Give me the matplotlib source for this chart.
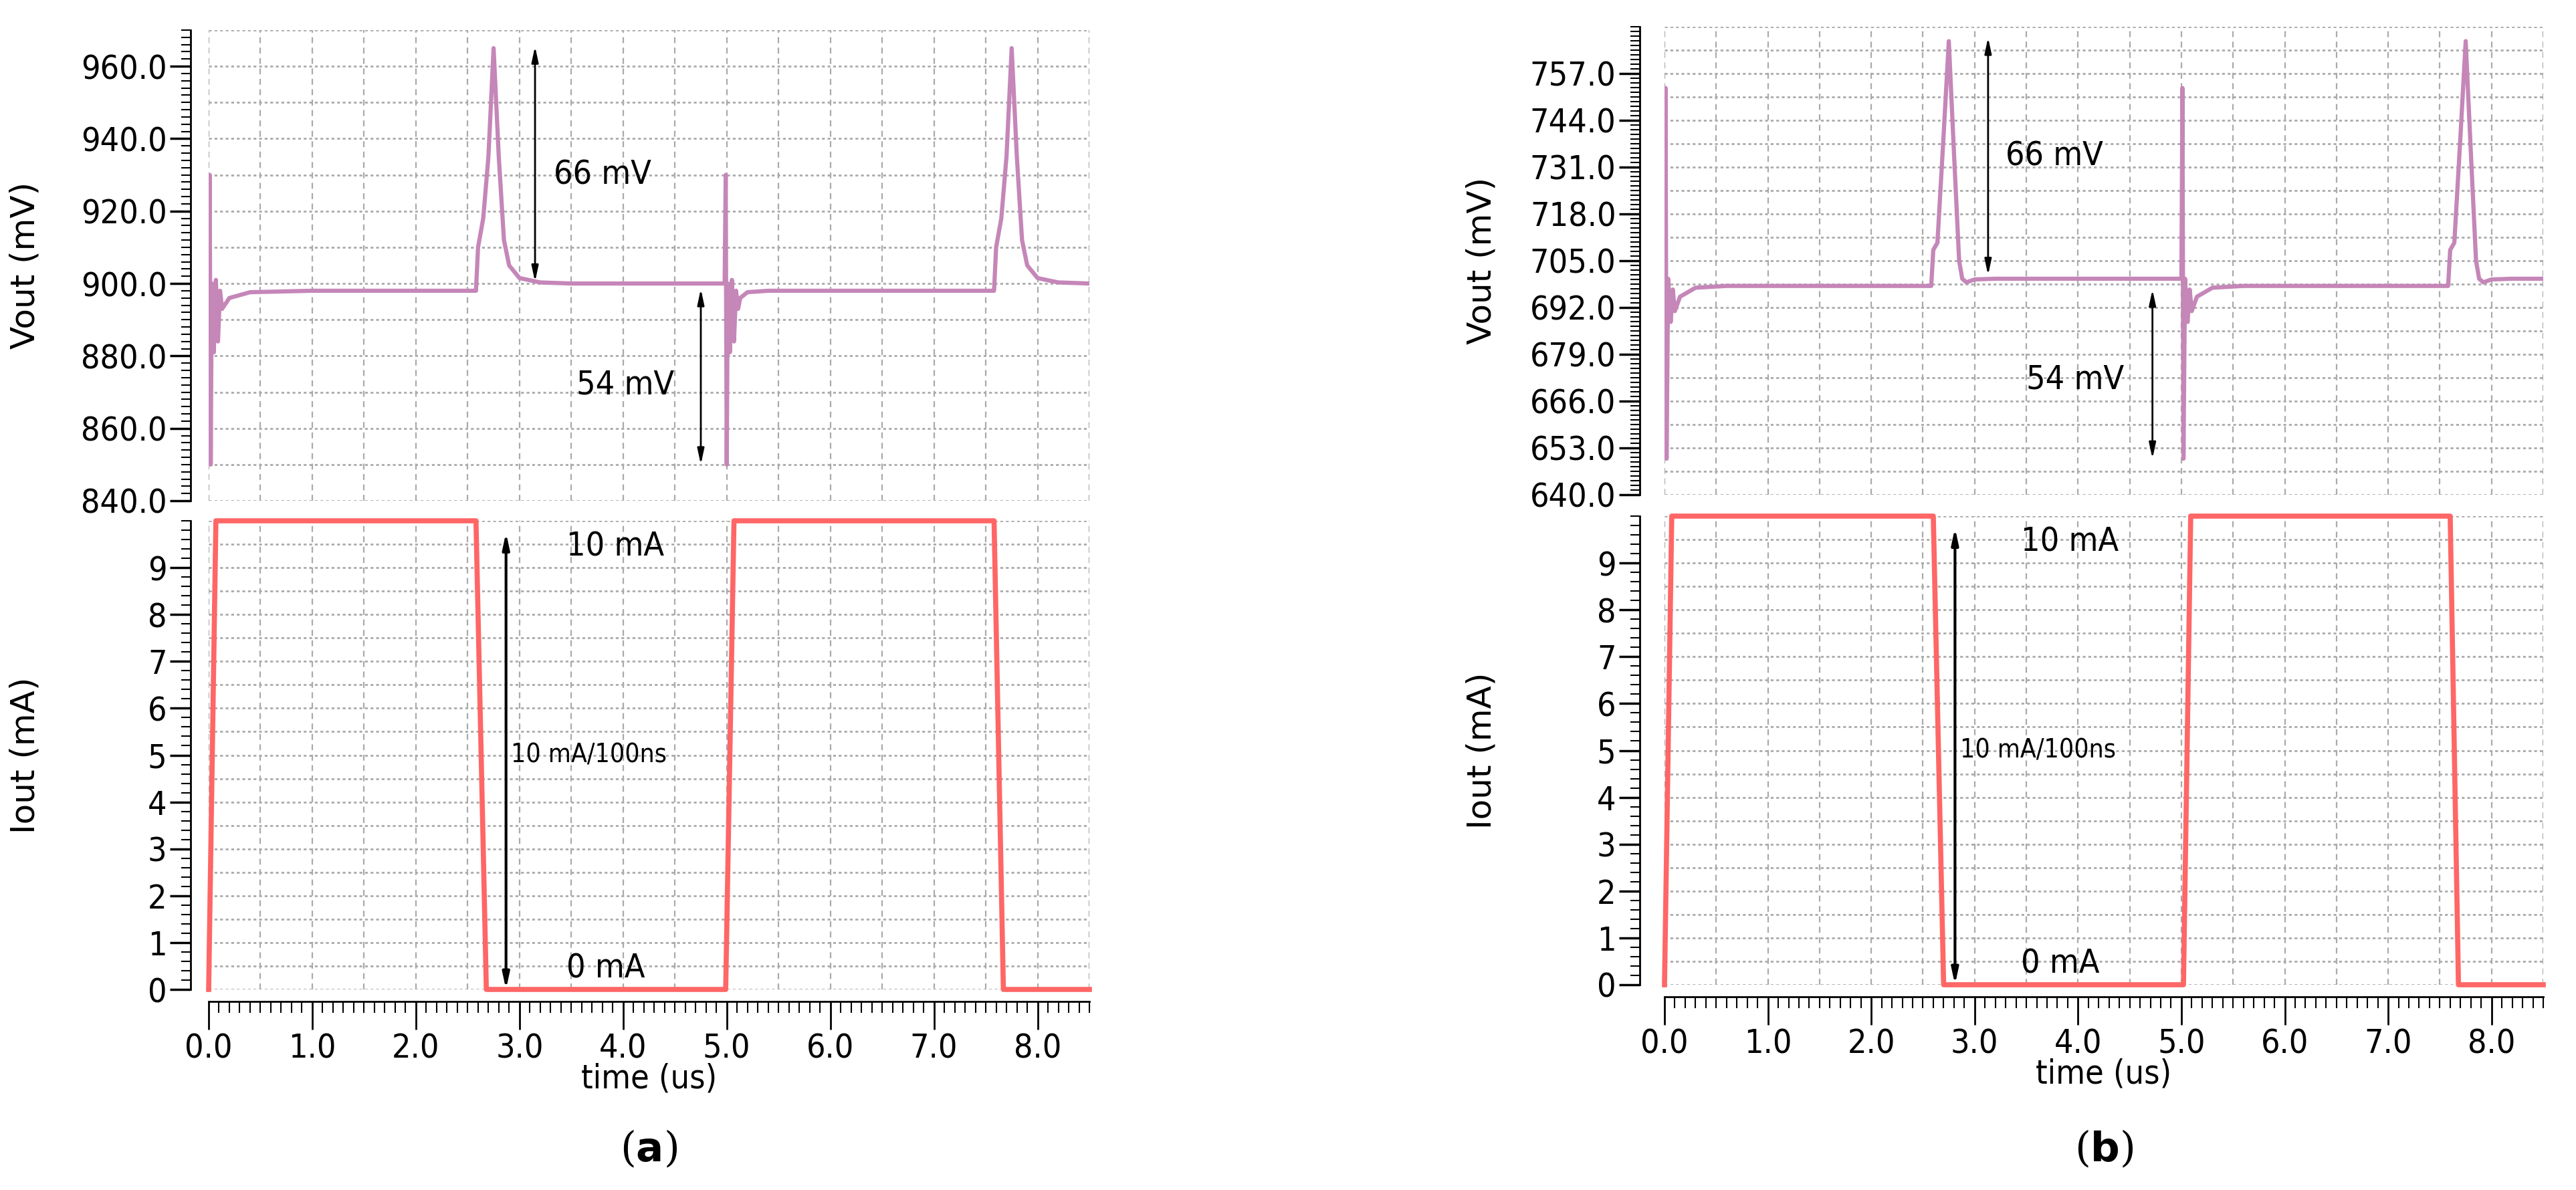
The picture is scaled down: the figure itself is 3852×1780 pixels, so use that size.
import numpy as np
import matplotlib
matplotlib.use("Agg")
import matplotlib.pyplot as plt
from matplotlib.ticker import MultipleLocator, FixedLocator, FormatStrFormatter

# ---- data ----
# panel (a)
vt_a = [0.0, 0.01, 0.02, 0.03, 0.05, 0.07, 0.09, 0.11, 0.13, 0.2, 0.4, 1.0,
        2.58, 2.6, 2.65, 2.7, 2.75, 2.8, 2.85, 2.9, 3.0, 3.2, 3.5, 4.98,
        4.99, 5.0, 5.01, 5.03, 5.05, 5.07, 5.09, 5.11, 5.13, 5.2, 5.4, 6.0,
        7.58, 7.6, 7.65, 7.7, 7.75, 7.8, 7.85, 7.9, 8.0, 8.2, 8.5]
vout_a = [900, 930, 850, 900, 881, 901, 884, 898, 893, 896, 897.6, 898,
          898, 910, 918, 935, 965, 935, 912, 905, 901.5, 900.3, 900, 900,
          930, 850, 900, 881, 901, 884, 898, 893, 896, 897.6, 898, 898,
          898, 910, 918, 935, 965, 935, 912, 905, 901.5, 900.3, 900]
it_a = [0.0, 0.07, 2.58, 2.68, 4.99, 5.07, 7.58, 7.67, 8.5]
iout_a = [0, 10, 10, 0, 0, 10, 10, 0, 0]

# panel (b)
vt_b = [0.0, 0.01, 0.02, 0.035, 0.06, 0.08, 0.1, 0.15, 0.3, 0.6,
        2.58, 2.6, 2.64, 2.7, 2.75, 2.8, 2.85, 2.88, 2.92, 3.0, 3.2, 5.0,
        5.01, 5.02, 5.035, 5.06, 5.08, 5.1, 5.15, 5.3, 5.6,
        7.58, 7.6, 7.64, 7.7, 7.75, 7.8, 7.85, 7.88, 7.92, 8.0, 8.2, 8.5]
vout_b = [700, 753, 650, 700, 688, 697, 691, 695, 697.5, 698,
          698, 708, 710, 740, 766, 735, 705, 700, 699, 699.8, 700, 700,
          753, 650, 700, 688, 697, 691, 695, 697.5, 698,
          698, 708, 710, 740, 766, 735, 705, 700, 699, 699.8, 700, 700]
it_b = [0.0, 0.07, 2.6, 2.7, 5.02, 5.09, 7.6, 7.68, 8.5]
iout_b = [0, 10, 10, 0, 0, 10, 10, 0, 0]

VCOL = "#c586b8"
ICOL = "#ff6666"
GCOL = "#aaaaaa"
W, H = 3852, 1780
TICKFONT = dict(family="DejaVu Sans", stretch="condensed", size=36)

fig = plt.figure(figsize=(W / 100, H / 100), dpi=100)


def px_axes(x0, x1, y0, y1):
    return fig.add_axes([x0 / W, 1 - y1 / H, (x1 - x0) / W, (y1 - y0) / H])


def style(ax, yoff, ymaj, yminor, ygrid, fmt, bottom, xoff=0):
    for s in ["top", "right"]:
        ax.spines[s].set_visible(False)
    ax.spines["left"].set_position(("outward", yoff * 0.72))
    ax.spines["left"].set_linewidth(2)
    y0, y1 = ax.get_ylim()
    ax.yaxis.set_major_locator(FixedLocator(np.arange(y0, y1 - 1e-6, ymaj)))
    ax.yaxis.set_minor_locator(FixedLocator(np.arange(y0, y1 + 1e-6, yminor)))
    ax.yaxis.set_major_formatter(FormatStrFormatter(fmt))
    ax.tick_params(axis="y", which="major", length=22, width=2.5, direction="out")
    ax.tick_params(axis="y", which="minor", length=10, width=1.5, direction="out")
    ax.set_xlim(0, 8.5)
    for yy in np.arange(y0, y1 + 1e-6, ygrid):
        ax.axhline(yy, color=GCOL, ls=(0, (1.5, 1.5)), lw=2, zorder=0)
    for xx in np.arange(0, 8.51, 0.5):
        ax.axvline(xx, color=GCOL, ls=(0, (4, 3)), lw=1.6, zorder=0)
    if bottom:
        ax.spines["bottom"].set_position(("outward", xoff * 0.72))
        ax.spines["bottom"].set_linewidth(2)
        ax.xaxis.set_major_locator(MultipleLocator(1.0))
        ax.xaxis.set_minor_locator(MultipleLocator(0.1))
        ax.xaxis.set_major_formatter(FormatStrFormatter("%.1f"))
        ax.tick_params(axis="x", which="major", length=30, width=2, direction="out")
        ax.tick_params(axis="x", which="minor", length=12, width=1.5, direction="out")
        ax.set_xlabel("time (us)", fontdict=TICKFONT, labelpad=-2)
    else:
        ax.spines["bottom"].set_visible(False)
        ax.set_xticks([])
    for lab in ax.get_xticklabels() + ax.get_yticklabels():
        lab.set_fontproperties(matplotlib.font_manager.FontProperties(**TICKFONT))


def arrow(ax, x, ya, yb, lw=2):
    ax.annotate("", xy=(x, yb), xytext=(x, ya),
                arrowprops=dict(arrowstyle="<|-|>,head_length=1.4,head_width=0.3",
                                color="black", lw=lw, shrinkA=0, shrinkB=0))


def panel(x0, x1, ytop, ymid1, ymid2, ybot, xaxis_y, yspine, vt, vout, vlim, vmaj,
          vminor, vgrid, it, iout, label, ann):
    top = px_axes(x0, x1, ytop, ymid1)
    top.plot(vt, vout, color=VCOL, lw=4.5)
    top.set_ylim(*vlim)
    style(top, x0 - yspine, vmaj, vminor, vgrid, "%.1f", False)
    top.set_ylabel("Vout (mV)", fontsize=36)
    top.yaxis.set_label_coords(-0.19, 0.5)

    bot = px_axes(x0, x1, ymid2, ybot)
    bot.plot(it, iout, color=ICOL, lw=5.5, clip_on=False)
    bot.set_ylim(0, 10)
    style(bot, x0 - yspine, 1, 0.2, 0.5, "%d", True, xaxis_y - ybot)
    bot.set_ylabel("Iout (mA)", fontsize=36)
    bot.yaxis.set_label_coords(-0.19, 0.5)

    (a66x, a66y0, a66y1, t66x, t66y, a54x, a54y0, a54y1, t54x, t54y, aix) = ann
    arrow(top, a66x, a66y0, a66y1)
    top.text(t66x, t66y, "66 mV", fontdict=TICKFONT, va="center")
    arrow(top, a54x, a54y0, a54y1)
    top.text(t54x, t54y, "54 mV", fontdict=TICKFONT, va="center")
    arrow(bot, aix, 0.0, 9.75, lw=3)
    bot.text(3.45, 9.45, "10 mA", fontdict=TICKFONT, va="center")
    bot.text(3.45, 0.45, "0 mA", fontdict=TICKFONT, va="center")
    bot.text(aix + 0.05, 5.0, "10 mA/100ns", family="DejaVu Sans",
             stretch="condensed", size=28, va="center")
    fig.text((x0 + x1) / 2 / W, 1 - 1720 / H, label, ha="center", va="center",
             fontsize=44, family="DejaVu Serif")


panel(312, 1629, 45, 749, 779, 1480, 1498, 285, vt_a, vout_a, (840, 970), 20, 2, 10,
      it_a, iout_a, r"($\mathbf{a}$)",
      (3.15, 900.5, 965.5, 3.33, 930, 4.75, 898.5, 850, 3.55, 872, 2.87))
panel(2489, 3803, 40, 740, 772, 1473, 1491, 2452, vt_b, vout_b, (640, 770), 13, 1.3, 6.5,
      it_b, iout_b, r"($\mathbf{b}$)",
      (3.13, 701, 767, 3.3, 734, 4.72, 697, 650, 3.5, 672, 2.81))

fig.savefig("out.png", dpi=100)
